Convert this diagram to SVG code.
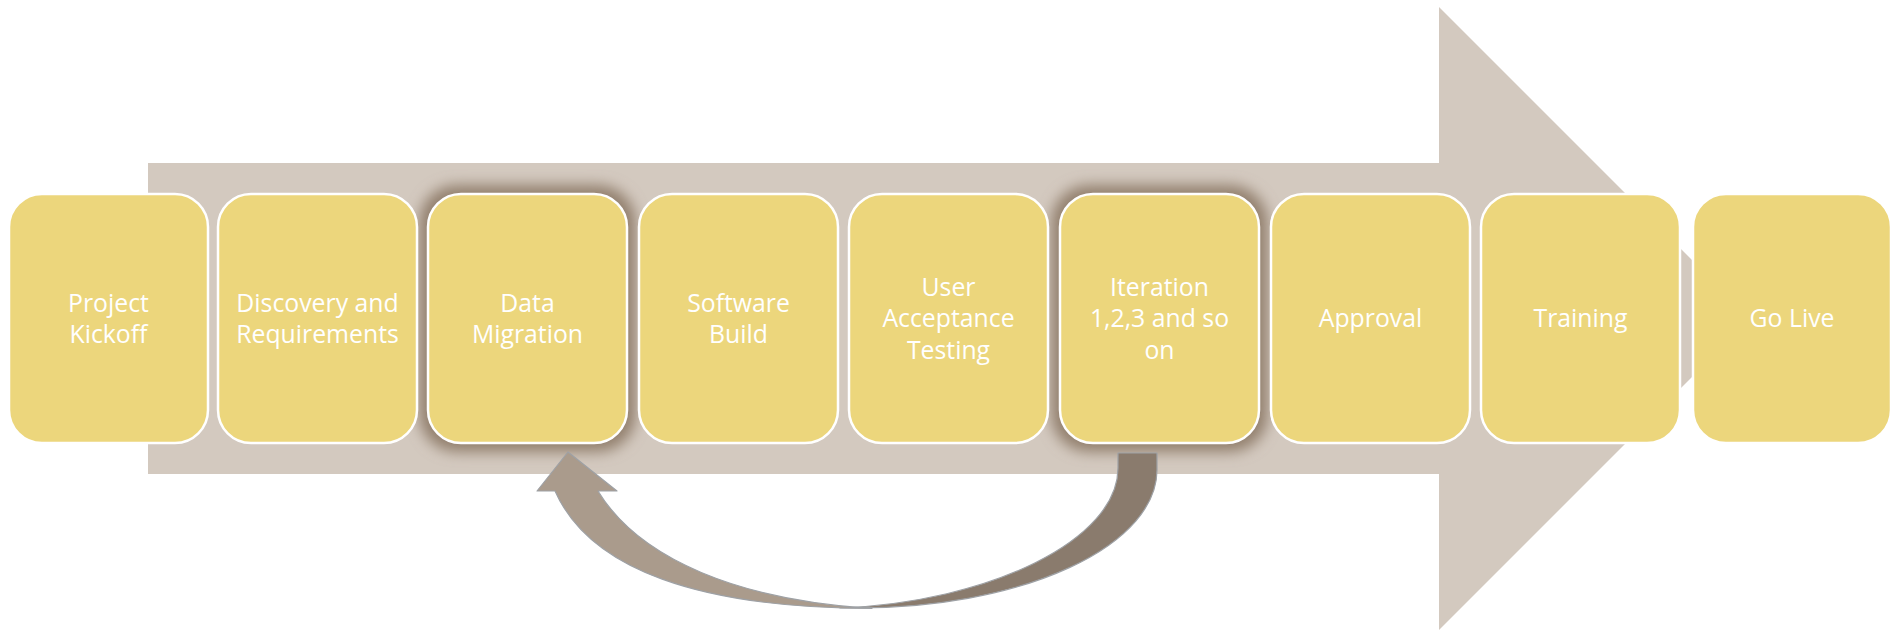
<svg xmlns="http://www.w3.org/2000/svg" width="1896" height="632" viewBox="0 0 1896 632">
  <defs>
    <filter id="glow" x="-30%" y="-30%" width="160%" height="160%">
      <feGaussianBlur stdDeviation="7"/>
    </filter>
    <style>
      .box { fill: #ECD67C; stroke: #FFFFFF; stroke-width: 2.5; }
      .halo { fill: #93806E; opacity: 1; filter: url(#glow); }
      .lbl { font-family: "Open Sans", "Liberation Sans", sans-serif; font-size: 24.8px; fill: #FFFFFF; text-anchor: middle; }
      .band { stroke: #9EA1A5; stroke-width: 1.2; stroke-linejoin: round; }
    </style>
  </defs>
  <rect width="1896" height="632" fill="#FFFFFF"/>

  <g id="process-arrow">
    <polygon points="148,163 1439,163 1439,7 1750.5,318.5 1439,630 1439,474 148,474" fill="#D3C9BF"/>
  </g>

  <g id="halos">
    <rect class="halo" x="419" y="185" width="217" height="267" rx="38"/>
    <rect class="halo" x="1051" y="185" width="217" height="267" rx="38"/>
  </g>

  <g id="node-kickoff">
    <rect class="box" x="9" y="194" width="199" height="249" rx="33"/>
    <text class="lbl"><tspan x="108.5" y="311.5">Project</tspan><tspan x="108.5" y="343">Kickoff</tspan></text>
  </g>
  <g id="node-discovery">
    <rect class="box" x="218" y="194" width="199" height="249" rx="33"/>
    <text class="lbl"><tspan x="317.5" y="311.5">Discovery and</tspan><tspan x="317.5" y="343">Requirements</tspan></text>
  </g>
  <g id="node-data-migration">
    <rect class="box" x="428" y="194" width="199" height="249" rx="33"/>
    <text class="lbl"><tspan x="527.5" y="311.5">Data</tspan><tspan x="527.5" y="343">Migration</tspan></text>
  </g>
  <g id="node-software-build">
    <rect class="box" x="639" y="194" width="199" height="249" rx="33"/>
    <text class="lbl"><tspan x="738.5" y="311.5">Software</tspan><tspan x="738.5" y="343">Build</tspan></text>
  </g>
  <g id="node-uat">
    <rect class="box" x="849" y="194" width="199" height="249" rx="33"/>
    <text class="lbl"><tspan x="948.5" y="295.5">User</tspan><tspan x="948.5" y="327">Acceptance</tspan><tspan x="948.5" y="358.5">Testing</tspan></text>
  </g>
  <g id="node-iteration">
    <rect class="box" x="1060" y="194" width="199" height="249" rx="33"/>
    <text class="lbl"><tspan x="1159.5" y="295.5">Iteration</tspan><tspan x="1159.5" y="327">1,2,3 and so</tspan><tspan x="1159.5" y="358.5">on</tspan></text>
  </g>
  <g id="node-approval">
    <rect class="box" x="1271" y="194" width="199" height="249" rx="33"/>
    <text class="lbl" x="1370.5" y="327">Approval</text>
  </g>
  <g id="node-training">
    <rect class="box" x="1481" y="194" width="199" height="249" rx="33"/>
    <text class="lbl" x="1580.5" y="327">Training</text>
  </g>
  <g id="node-go-live">
    <rect class="box" x="1693" y="194" width="198" height="249" rx="33"/>
    <text class="lbl" x="1792" y="327">Go Live</text>
  </g>

  <g id="connectors">
    <path class="band" fill="#8A7B6D" d="M1118,453 L1157,453 L1157,470 A299,138 0 0 1 858,608 L840,608 C990,602 1118,540 1118,468 Z"/>
    <path class="band" fill="#AA9B8C" d="M568,452 L617,491 L598,491 C640,560 740,600 872,608.5 C700,608 590,570 555,491 L537,491 Z"/>
  </g>
</svg>
